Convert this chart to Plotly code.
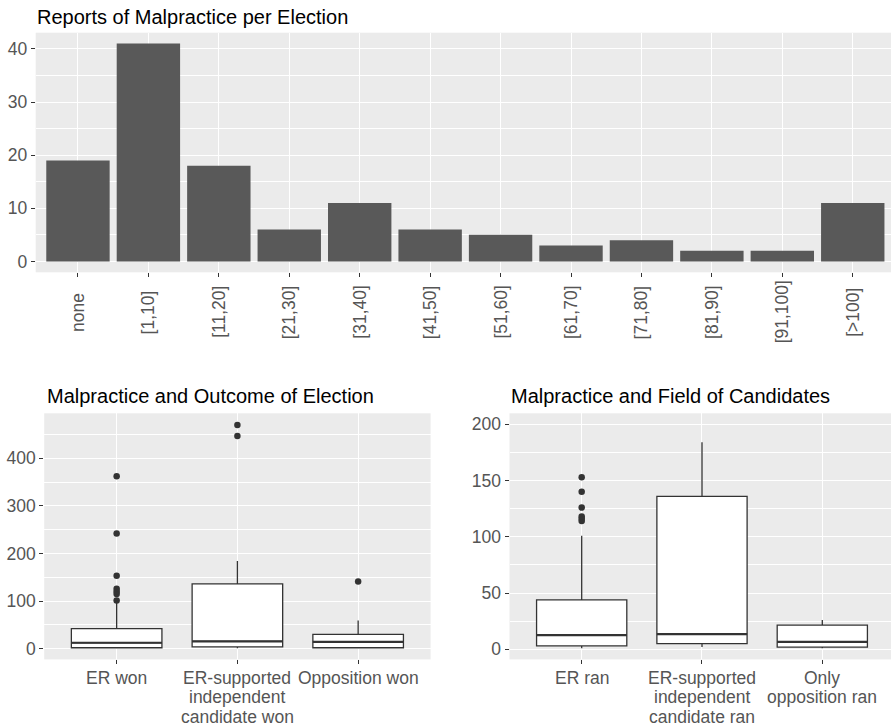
import plotly.graph_objects as go

W, H = 891, 726

# ---- Reports of malpractice per election (counts per bin) ----
report_bins = ["none", "[1,10]", "[11,20]", "[21,30]", "[31,40]", "[41,50]",
               "[51,60]", "[61,70]", "[71,80]", "[81,90]", "[91,100]", "[>100]"]
report_counts = [19, 41, 18, 6, 11, 6, 5, 3, 4, 2, 2, 11]

# ---- Malpractice by outcome of election (box statistics) ----
outcome_labels = ["ER won", "ER-supported\nindependent\ncandidate won", "Opposition won"]
outcome_lowerfence = [1, 1, 1]
outcome_q1 = [2, 4, 2]
outcome_median = [12.5, 15.5, 14.5]
outcome_q3 = [42, 136, 30]
outcome_upperfence = [99, 184, 59]
outcome_outliers = [[101, 115, 120, 126, 153, 242, 362], [447, 470], [141]]

# ---- Malpractice by field of candidates (box statistics) ----
field_labels = ["ER ran", "ER-supported\nindependent\ncandidate ran", "Only\nopposition ran"]
field_lowerfence = [1, 2, 1]
field_q1 = [3, 5, 2]
field_median = [12.5, 13.5, 6.5]
field_q3 = [44, 136, 21.5]
field_upperfence = [101, 184, 26]
field_outliers = [[114, 116, 118, 126, 140, 153], [], []]

FONT = "Liberation Sans, Arial, sans-serif"
TICK_COLOR = "#555555"
PANEL_BG = "#EBEBEB"
BOX_LINE = "#333333"
BOX_WIDTH = 0.75


def xdom(left, right):
    return [left / W, min(right / W, 1.0)]


def ydom(top, bottom):
    return [1 - bottom / H, 1 - top / H]


def py(px):
    return 1 - px / H


fig = go.Figure()

# Bar chart
fig.add_trace(go.Bar(
    x=list(range(len(report_bins))), y=report_counts, width=0.9,
    marker=dict(color="#595959", line=dict(width=0)),
    xaxis="x", yaxis="y", showlegend=False, hoverinfo="x+y",
))


def add_boxes(xa, ya, lf, q1, med, q3, uf, outl):
    n = len(med)
    pos = list(range(1, n + 1))
    for i in range(n):
        fig.add_trace(go.Box(
            x=[pos[i]], q1=[q1[i]], median=[med[i]], q3=[q3[i]],
            lowerfence=[lf[i]], upperfence=[uf[i]],
            width=BOX_WIDTH, whiskerwidth=0, boxpoints=False,
            fillcolor="white", line=dict(color=BOX_LINE, width=1.3),
            xaxis=xa, yaxis=ya, showlegend=False,
        ))
        # heavier median bar
        fig.add_trace(go.Scatter(
            x=[pos[i] - BOX_WIDTH / 2, pos[i] + BOX_WIDTH / 2], y=[med[i], med[i]],
            mode="lines", line=dict(color=BOX_LINE, width=2.2),
            xaxis=xa, yaxis=ya, showlegend=False, hoverinfo="skip",
        ))
        if outl[i]:
            fig.add_trace(go.Scatter(
                x=[pos[i]] * len(outl[i]), y=outl[i], mode="markers",
                marker=dict(color=BOX_LINE, size=6.5),
                xaxis=xa, yaxis=ya, showlegend=False,
            ))


add_boxes("x2", "y2", outcome_lowerfence, outcome_q1, outcome_median,
          outcome_q3, outcome_upperfence, outcome_outliers)
add_boxes("x3", "y3", field_lowerfence, field_q1, field_median,
          field_q3, field_upperfence, field_outliers)

tickfont = dict(family=FONT, size=17.5, color=TICK_COLOR)
common_x = dict(showgrid=True, gridcolor="white", gridwidth=1.3, zeroline=False,
                showline=False, ticks="outside", ticklen=4, tickwidth=1,
                tickcolor="#333333", showticklabels=False, fixedrange=True)
common_y = dict(showgrid=True, gridcolor="white", gridwidth=1.3, zeroline=False,
                showline=False, ticks="outside", ticklen=4, tickwidth=1,
                tickcolor="#333333", tickfont=tickfont, fixedrange=True)

n_bins = len(report_bins)
fig.update_layout(
    width=W, height=H, margin=dict(l=0, r=0, t=0, b=0),
    paper_bgcolor="white", plot_bgcolor=PANEL_BG,
    font=dict(family=FONT),
    xaxis=dict(domain=xdom(35.7, 891), range=[-0.6, 11.543],
               tickvals=list(range(n_bins)), anchor="y", **common_x),
    yaxis=dict(domain=ydom(32.7, 272.3), range=[-2.05, 43.05],
               tickvals=[0, 10, 20, 30, 40], anchor="x",
               minor=dict(dtick=5, tick0=0, showgrid=True, gridcolor="white",
                          gridwidth=0.7, ticks=""),
               **common_y),
    xaxis2=dict(domain=xdom(44.2, 430.6), range=[0.4, 3.6],
                tickvals=[1, 2, 3], anchor="y2", **common_x),
    yaxis2=dict(domain=ydom(413.3, 659.4), range=[-22.5, 494.5],
                tickvals=[0, 100, 200, 300, 400], anchor="x2",
                minor=dict(dtick=50, tick0=0, showgrid=True, gridcolor="white",
                           gridwidth=0.7, ticks=""),
                **common_y),
    xaxis3=dict(domain=xdom(509.5, 891), range=[0.4, 3.571],
                tickvals=[1, 2, 3], anchor="y3", **common_x),
    yaxis3=dict(domain=ydom(413.3, 659.4), range=[-9.0, 209.8],
                tickvals=[0, 50, 100, 150, 200], anchor="x3",
                minor=dict(dtick=25, tick0=0, showgrid=True, gridcolor="white",
                           gridwidth=0.7, ticks=""),
                **common_y),
)

annotations = []
title_font = dict(family=FONT, size=20, color="black")
for text, x_px, y_px in [("Reports of Malpractice per Election", 35, 17),
                         ("Malpractice and Outcome of Election", 44.5, 396),
                         ("Malpractice and Field of Candidates", 508.5, 396)]:
    annotations.append(dict(text=text, xref="paper", yref="paper", x=x_px / W,
                            y=py(y_px), xanchor="left", yanchor="middle",
                            showarrow=False, font=title_font))

# Rotated category labels for the bar chart
for i, lab in enumerate(report_bins):
    annotations.append(dict(text=lab, xref="x", yref="paper", x=i, y=py(312),
                            xanchor="center", yanchor="middle", textangle=-90,
                            showarrow=False, font=tickfont))

# Multi-line category labels under the box plots
LINE0, LINE_STEP = 677.5, 19.7
for xa, labels in (("x2", outcome_labels), ("x3", field_labels)):
    for i, lab in enumerate(labels):
        for k, line in enumerate(lab.split("\n")):
            annotations.append(dict(text=line, xref=xa, yref="paper", x=i + 1,
                                    y=py(LINE0 + k * LINE_STEP), xanchor="center",
                                    yanchor="middle", showarrow=False,
                                    font=tickfont))

fig.update_layout(annotations=annotations)

fig.write_html("out.html")
